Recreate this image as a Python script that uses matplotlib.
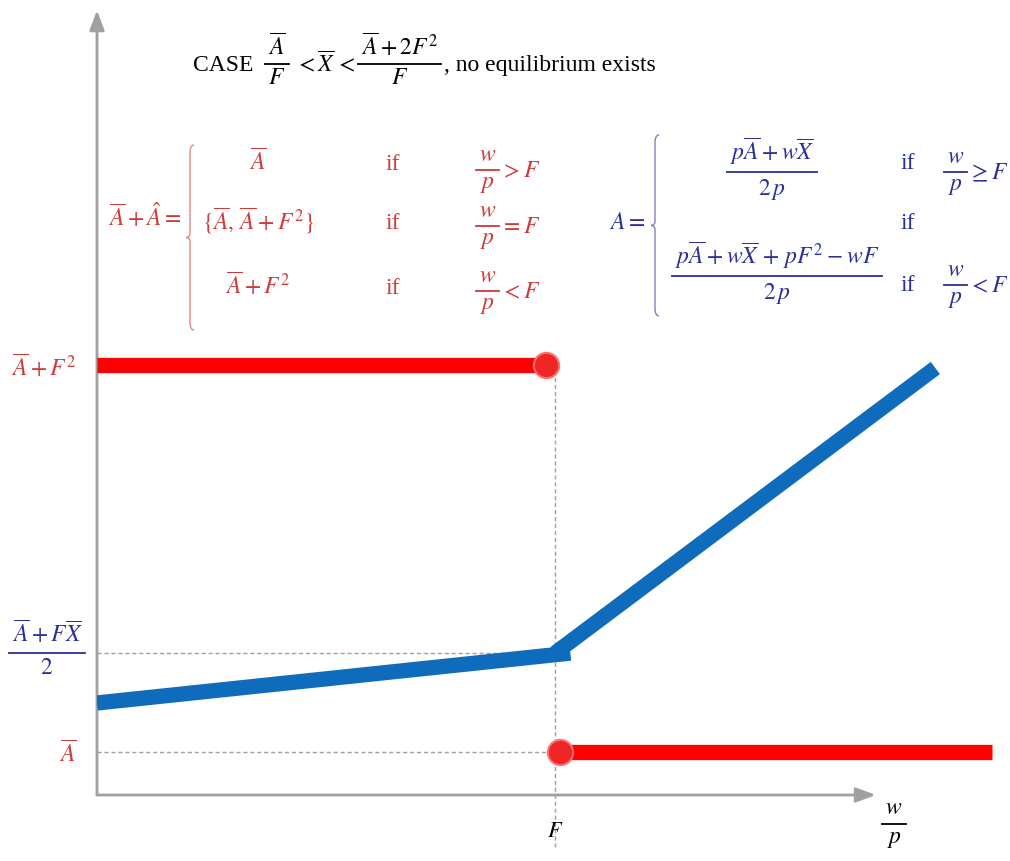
import numpy as np
import matplotlib.pyplot as plt
from matplotlib.path import Path
from matplotlib.patches import PathPatch

plt.rcParams['font.family'] = ['Liberation Serif', 'DejaVu Serif']
plt.rcParams['mathtext.fontset'] = 'stix'

# Model values (units where A_bar = 1, F = 3)
F = 3.0
A_bar = 1.0
A_top = A_bar + F ** 2          # A_bar + F^2
A_mid = 3.3                     # (A_bar + F*X_bar) / 2

# Red correspondence: A_bar + A_hat
red_low_x = [0.0, F]
red_low_y = [A_top, A_top]
red_high_x = [F, 5.86]
red_high_y = [A_bar, A_bar]
red_dot_x = [2.94, 3.03]
red_dot_y = [A_top, A_bar]

# Blue best response A(w/p)
blue_low_x = [0.0, 3.1]
blue_low_y = [2.14, A_mid]
blue_high_x = [F, 5.49]
blue_high_y = [A_mid, 9.93]

RED = '#ff0000'
BLUE = '#0f6cbd'
RED_TXT = '#d03a3a'
BLUE_TXT = '#2a2f9a'
GREY = '#a0a0a0'
FS = 17

W, H = 1010, 861
fig = plt.figure(figsize=(W / 100, H / 100), dpi=100)
renderer = fig.canvas.get_renderer()

# overlay in pixel coordinates for the formulas
ov = fig.add_axes([0, 0, 1, 1])
ov.set_xlim(0, W)
ov.set_ylim(H, 0)
ov.axis('off')

ax = fig.add_axes([97 / W, 66 / H, (W - 97) / W, 795 / H])
ax.set_xlim(0, 913 / 152.7)
ax.set_ylim(0, 795 / 43)
ax.patch.set_alpha(0)
for s in ax.spines.values():
    s.set_visible(False)


def width(t):
    return t.get_window_extent(renderer).width


def frac(x, bar, num, den, color, fs=FS, align='left', gn=4, gd=4, pad=3):
    tn = ov.text(x, bar - gn, num, color=color, fontsize=fs, ha='center', va='bottom')
    td = ov.text(x, bar + gd, den, color=color, fontsize=fs, ha='center', va='top')
    w = max(width(tn), width(td)) + 2 * pad
    xc = x + w / 2 if align == 'left' else x
    tn.set_x(xc)
    td.set_x(xc)
    ov.plot([xc - w / 2, xc + w / 2], [bar, bar], color=color, lw=1.3)
    return w


def seq(x, bar, items, color, fs=FS, gap=3):
    base = bar + 0.3 * fs * 100 / 72
    for it in items:
        if isinstance(it, tuple):
            x += frac(x, bar, it[0], it[1], color, fs) + gap
        else:
            t = ov.text(x, base, it, color=color, fontsize=fs, ha='left', va='baseline')
            x += width(t) + gap
    return x


def brace(x, top, bottom, color, w=8):
    mid = (top + bottom) / 2
    xm = x + w / 2
    verts = [(x + w, top), (xm, top), (xm, top + w),
             (xm, mid - w / 2),
             (xm, mid), (x, mid), (x, mid),
             (xm, mid), (xm, mid + w / 2),
             (xm, bottom - w),
             (xm, bottom), (x + w, bottom)]
    codes = [Path.MOVETO, Path.CURVE3, Path.CURVE3, Path.LINETO,
             Path.CURVE4, Path.CURVE4, Path.CURVE4,
             Path.CURVE3, Path.CURVE3, Path.LINETO,
             Path.CURVE3, Path.CURVE3]
    ov.add_patch(PathPatch(Path(verts, codes), fill=False, ec=color, lw=1.0, alpha=0.6))


# axes with arrow heads
ax.annotate('', xy=(0, 18.25), xytext=(0, 0),
            arrowprops=dict(arrowstyle='-|>,head_length=1.2,head_width=0.45',
                            color=GREY, lw=2, shrinkA=0, shrinkB=0))
ax.annotate('', xy=(5.1, 0), xytext=(0, 0),
            arrowprops=dict(arrowstyle='-|>,head_length=1.2,head_width=0.45',
                            color=GREY, lw=2, shrinkA=0, shrinkB=0))

# guide lines
dash = dict(color=GREY, lw=1, ls=(0, (3, 2)), zorder=1, clip_on=False)
ax.plot([F, F], [-1.2, A_top], **dash)
ax.plot([0, F], [A_mid, A_mid], **dash)
ax.plot([0, F], [A_bar, A_bar], **dash)

ax.plot(red_low_x, red_low_y, color=RED, lw=11, solid_capstyle='butt', zorder=3)
ax.plot(red_high_x, red_high_y, color=RED, lw=11, solid_capstyle='butt', zorder=3)
ax.plot(blue_low_x, blue_low_y, color=BLUE, lw=11, solid_capstyle='butt', zorder=3)
ax.plot(blue_high_x, blue_high_y, color=BLUE, lw=11, solid_capstyle='butt', zorder=3)
ax.scatter(red_dot_x, red_dot_y, s=330, color='#f02525', edgecolor='#ff7070',
           lw=1.5, zorder=4)

# tick labels
ax.set_xticks([F])
ax.set_xticklabels([r'$F$'], fontsize=16)
ax.set_yticks([A_bar, A_mid, A_top])
ax.set_yticklabels([r'$\overline{A}$', '', r'$\overline{A}+F^{2}$'], fontsize=FS)
ax.tick_params(length=0, axis='x', pad=20)
ax.tick_params(length=0, axis='y', pad=15)
for lbl, c in zip(ax.get_yticklabels(), [RED_TXT, BLUE_TXT, RED_TXT]):
    lbl.set_color(c)
ax.get_yticklabels()[2].set_y(A_top + 0.3)

# the middle level label is a stacked fraction
mid_px = H - ax.transData.transform((0, A_mid))[1]
frac(47, mid_px, r'$\overline{A}+F\overline{X}$', r'$2$', BLUE_TXT, align='center', gn=6, gd=5)

# axis name
frac(894, 824, r'$w$', r'$p$', 'black', fs=FS, align='center', gn=5, gd=5)

# heading
seq(193, 64, ['CASE', ' ', (r'$\overline{A}$', r'$F$'), r'$\,<\overline{X}\,<$',
              (r'$\overline{A}+2F^{2}$', r'$F$'), ', no equilibrium exists'], 'black')

# red piecewise definition
ov.text(181, 226, r'$\overline{A}+\hat{A}=$', color=RED_TXT, fontsize=FS, ha='right', va='baseline')
brace(186, 145, 330, RED_TXT)
red_rows = [r'$\overline{A}$', r'$\{\overline{A},\,\overline{A}+F^{2}\}$', r'$\overline{A}+F^{2}$']
red_ops = [r'$>F$', r'$=F$', r'$<F$']
for yc, bar, row, op in zip([163, 222, 287], [170, 226, 291], red_rows, red_ops):
    ov.text(258, yc + 7, row, color=RED_TXT, fontsize=FS, ha='center', va='baseline')
    ov.text(393, yc + 7, 'if', color=RED_TXT, fontsize=FS, ha='center', va='baseline')
    seq(476, bar, [(r'$w$', r'$p$'), op], RED_TXT, gap=1)

# blue piecewise definition
ov.text(645, 229, r'$A=$', color=BLUE_TXT, fontsize=FS, ha='right', va='baseline')
brace(651, 135, 316, BLUE_TXT)
frac(772, 172, r'$p\overline{A}+w\overline{X}$', r'$2\,p$', BLUE_TXT, align='center', gn=5, gd=5)
frac(777, 276, r'$p\overline{A}+w\overline{X}\,+\,pF^{2}-wF$', r'$2\,p$', BLUE_TXT,
     align='center', gn=5, gd=5)
for yc in [162, 222, 284]:
    ov.text(908, yc + 7, 'if', color=BLUE_TXT, fontsize=FS, ha='center', va='baseline')
seq(944, 172, [(r'$w$', r'$p$'), r'$\geq F$'], BLUE_TXT, gap=1)
seq(944, 285, [(r'$w$', r'$p$'), r'$<F$'], BLUE_TXT, gap=1)

fig.savefig('out.png', dpi=100)
